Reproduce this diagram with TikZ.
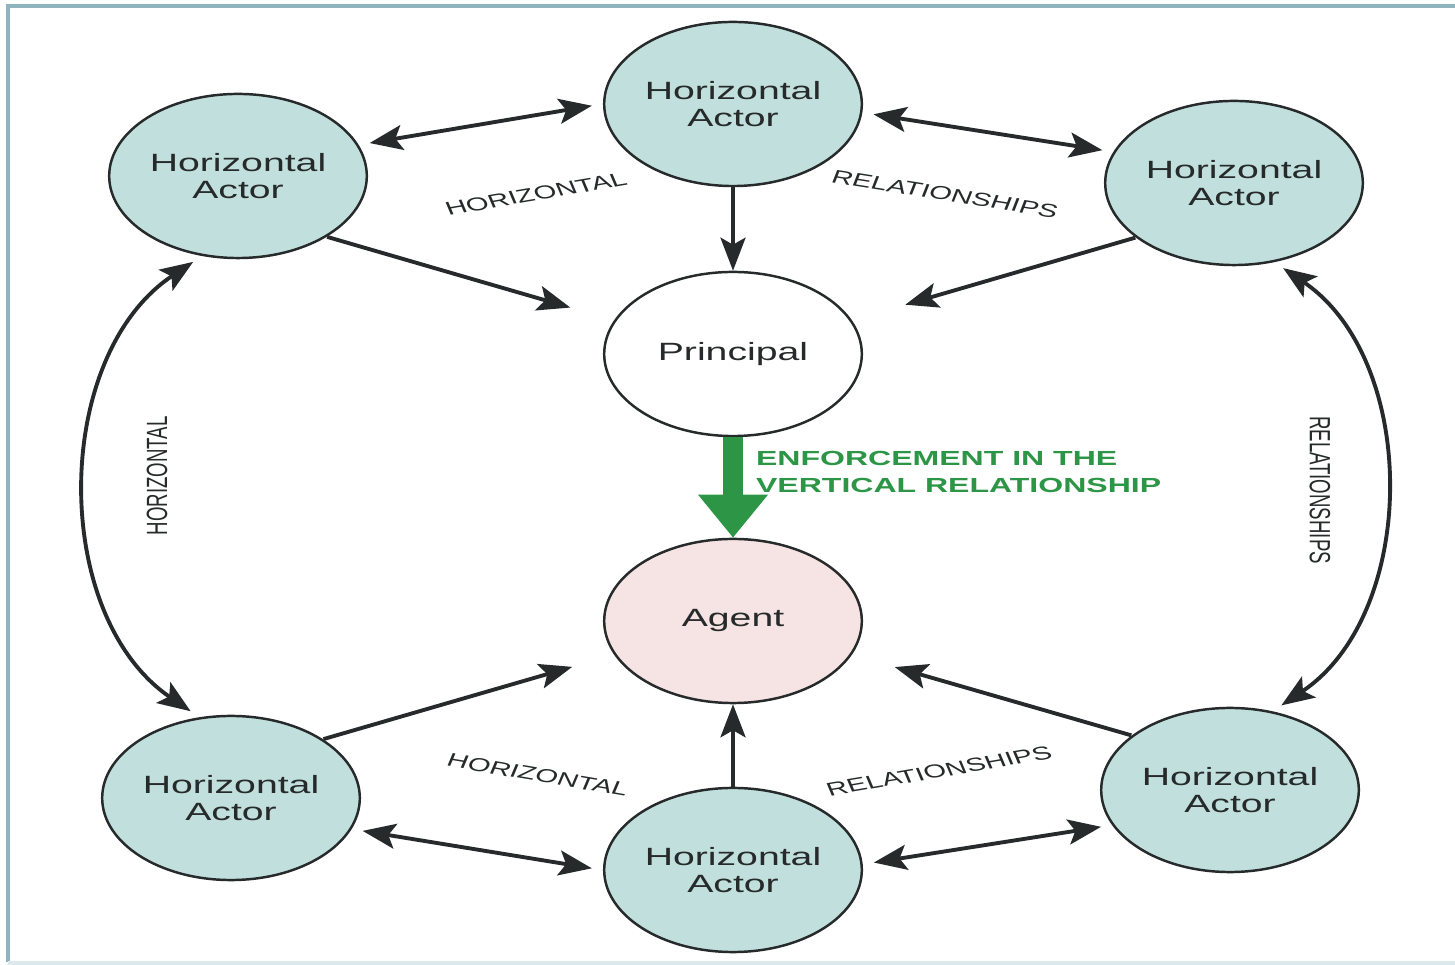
\documentclass[tikz,border=0pt]{standalone}
\usepackage{fontspec}
\setmainfont{Liberation Sans}
\usepackage{xcolor}
\definecolor{actorfill}{RGB}{193, 224, 221}
\definecolor{agentfill}{RGB}{246, 227, 227}
\definecolor{inkdark}{RGB}{38, 42, 42}
\definecolor{enfgreen}{RGB}{44, 150, 70}
\definecolor{framecol}{RGB}{143, 180, 190}
\usepackage{tikz}
\usetikzlibrary{arrows.meta}

\begin{document}
\begin{tikzpicture}[
        x=0.01cm, y=-0.01cm,
        actor/.style={
            circle,
            draw=inkdark,
            line width=0.7pt,
            fill=actorfill,
            minimum size=1.64cm,
            inner sep=0pt,
            xscale=1.57,
            align=center,
            text=inkdark,
            font=\fontsize{7.1}{7.7}\selectfont
        },
        lbl/.style={
            xscale=1.57,
            inner sep=0pt,
            text=inkdark,
            font=\fontsize{5.3}{6}\selectfont
        },
        arw/.style={
            draw=inkdark,
            line width=1.1pt,
            -{Stealth[length=0.33cm, width=0.25cm, inset=0.07cm]}
        },
        biarw/.style={
            draw=inkdark,
            line width=1.1pt,
            shorten <=3pt, shorten >=3pt,
            {Stealth[length=0.33cm, width=0.25cm, inset=0.07cm]}-{Stealth[length=0.33cm, width=0.25cm, inset=0.07cm]}
        },
        enfarw/.style={
            draw=enfgreen,
            line width=0.2cm,
            -{Triangle[length=0.43cm, width=0.67cm]}
        }
    ]
        \useasboundingbox (0,0) rectangle (1455,965);
        \fill[white] (0,0) rectangle (1455,965);
        \draw[framecol, line width=1pt] (1460,6) -- (8,6) -- (8,962);
        \draw[framecol!30, line width=1pt] (8,963) -- (1460,963);

        % Nodes
        \node[actor] (tl) at (238,176) {Horizontal\\Actor};
        \node[actor] (tm) at (733,104) {Horizontal\\Actor};
        \node[actor] (tr) at (1234,183) {Horizontal\\Actor};
        \node[actor, fill=white] (pr) at (733,354) {Principal};
        \node[actor, fill=agentfill] (ag) at (733,621) {Agent};
        \node[actor] (bl) at (231,798) {Horizontal\\Actor};
        \node[actor] (bm) at (733,870) {Horizontal\\Actor};
        \node[actor] (br) at (1230,790) {Horizontal\\Actor};

        % Labels
        \node[lbl, rotate=15] (h1) at (536,194) {HORIZONTAL};
        \node[lbl, rotate=-14] (r1) at (945,194) {RELATIONSHIPS};
        \node[lbl, rotate=90] (h2) at (157,476) {HORIZONTAL};
        \node[lbl, rotate=-90] (r2) at (1320,490) {RELATIONSHIPS};
        \node[lbl, rotate=-15] (h3) at (538,775) {HORIZONTAL};
        \node[lbl, rotate=15] (r3) at (939,771) {RELATIONSHIPS};
        \node[xscale=1.57, anchor=west, align=left, inner sep=0pt, text=enfgreen,
            font=\fontsize{5.8}{7.7}\selectfont\bfseries] (enf) at (755,472)
            {ENFORCEMENT IN THE\\VERTICAL RELATIONSHIP};

        % Arrows
        \draw[biarw] (tl.22) -- (tm.180);
        \draw[biarw] (tm.354) -- (tr.158);
        \draw[arw] (tm.south) -- (pr.north);
        \draw[arw, shorten >=0.45cm] (tl.313) -- (pr.156);
        \draw[arw, shorten >=0.55cm] (tr.221) -- (pr.24);
        \draw[biarw] (tl.254) to[bend right=56] (bl.104);
        \draw[biarw] (tr.288) to[bend left=56] (br.71);
        \draw[enfarw] (pr.south) -- (ag.north);
        \draw[arw, shorten >=0.43cm] (bl.45) -- (ag.204);
        \draw[arw, shorten >=0.44cm] (br.139) -- (ag.336);
        \draw[arw] (bm.north) -- (ag.south);
        \draw[biarw] (bl.338) -- (bm.180);
        \draw[biarw] (bm.4) -- (br.205);
    \end{tikzpicture}
\end{document}
